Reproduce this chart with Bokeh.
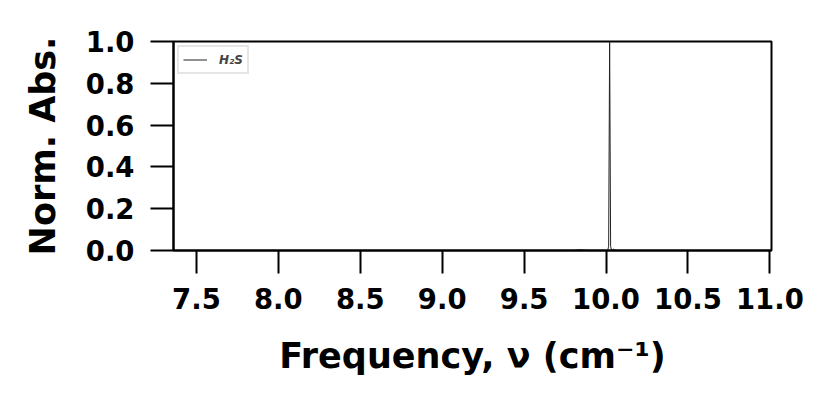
from bokeh.plotting import figure
from bokeh.models import Range1d, FixedTicker, Legend, LegendItem, NumeralTickFormatter
from bokeh.embed import file_html
from bokeh.resources import INLINE

# Spectrum data
freq = [7.36, 8.50, 9.50, 9.80, 9.84, 9.86, 9.90, 10.00, 10.010, 10.016, 10.022, 10.028, 10.034, 10.045, 10.06, 10.50, 11.01]
norm_abs = [0.0, 0.0, 0.0, 0.0, 0.003, 0.002, 0.0, 0.0, 0.0, 0.02, 1.0, 0.02, 0.0, 0.006, 0.0, 0.0, 0.0]

x_ticks = [7.5, 8.0, 8.5, 9.0, 9.5, 10.0, 10.5, 11.0]
y_ticks = [0.0, 0.2, 0.4, 0.6, 0.8, 1.0]
series_name = "H\u2082S"

FONT = "DejaVu Sans"

p = figure(width=820, height=392, output_backend="svg", toolbar_location=None,
           x_range=Range1d(7.36, 11.01), y_range=Range1d(0.0, 1.0),
           min_border_left=173, min_border_right=49, min_border_top=41, min_border_bottom=142)
p.grid.visible = False
p.background_fill_color = "white"
p.border_fill_color = "white"
p.outline_line_color = "black"
p.outline_line_width = 2

r = p.line(freq, norm_abs, line_color="#222222", line_width=1)

for ax, ticks in ((p.xaxis[0], x_ticks), (p.yaxis[0], y_ticks)):
    ax.ticker = FixedTicker(ticks=ticks)
    ax.formatter = NumeralTickFormatter(format="0.0")
    ax.minor_tick_line_color = None
    ax.major_tick_in = 0
    ax.major_tick_out = 23
    ax.major_tick_line_width = 2
    ax.axis_line_width = 2
    ax.major_label_text_font = FONT
    ax.major_label_text_font_style = "bold"
    ax.major_label_text_font_size = "27.5px"
    ax.major_label_text_color = "black"
    ax.axis_label_text_font = FONT
    ax.axis_label_text_font_style = "bold"
    ax.axis_label_text_font_size = "35px"
    ax.axis_label_text_color = "black"

p.xaxis[0].axis_label = "Frequency, \u03bd (cm\u207b\u00b9)"
p.yaxis[0].axis_label = "Norm. Abs."
p.xaxis[0].major_label_standoff = 14
p.yaxis[0].major_label_standoff = 16
p.xaxis[0].axis_label_standoff = 24
p.yaxis[0].axis_label_standoff = 20

legend = Legend(items=[LegendItem(label=series_name, renderers=[r])], location="top_left")
legend.margin = 4
legend.padding = 4
legend.spacing = 0
legend.glyph_width = 24
legend.glyph_height = 17
legend.label_standoff = 12
legend.label_text_font = FONT
legend.label_text_font_style = "bold italic"
legend.label_text_font_size = "12px"
legend.label_height = 17
legend.border_line_color = "#cccccc"
legend.border_line_width = 2
legend.background_fill_alpha = 0.8
p.add_layout(legend)

open("out.html", "w").write(file_html(p, INLINE))
